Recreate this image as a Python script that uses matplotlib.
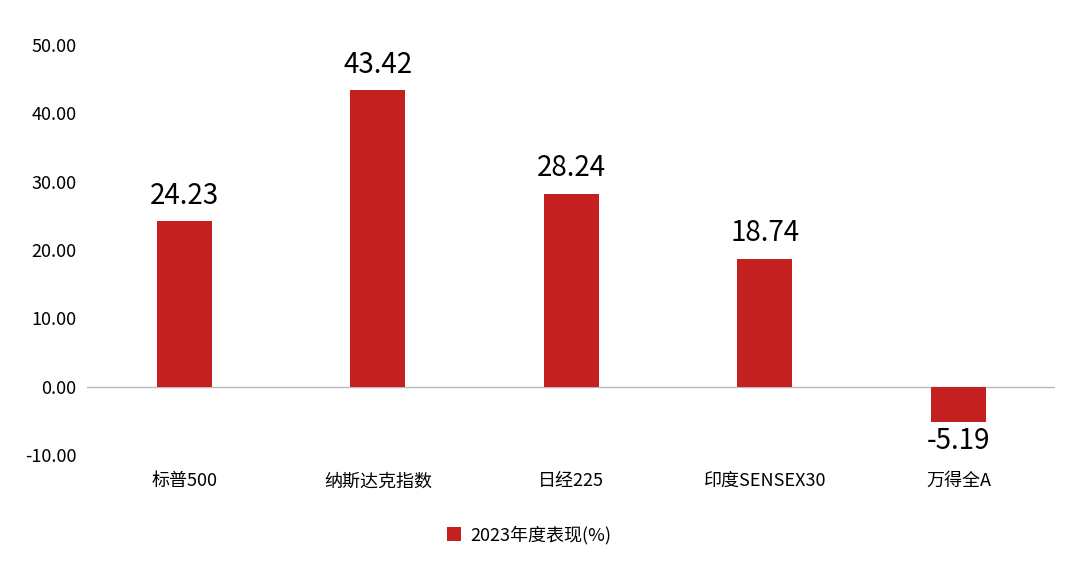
import matplotlib
matplotlib.use("Agg")
import matplotlib.pyplot as plt

plt.rcParams['font.family'] = ['Noto Sans CJK SC', 'DejaVu Sans']

categories = ["标普500", "纳斯达克指数", "日经225", "印度SENSEX30", "万得全A"]
values = [24.23, 43.42, 28.24, 18.74, -5.19]
yticks = [-10, 0, 10, 20, 30, 40, 50]
color = "#C4201F"

fig = plt.figure(figsize=(10.8, 5.69), dpi=100)
ax = fig.add_axes([0.081, 0.2, 0.896, 0.721])
x = list(range(len(categories)))
ax.bar(x, values, width=0.285, color=color, label="2023年度表现(%)", zorder=2)
ax.set_xlim(-0.5, len(categories) - 0.5)
ax.set_ylim(-10, 50)
ax.set_yticks(yticks)
ax.set_yticklabels([f"{v:.2f}" for v in yticks], fontsize=13)
ax.tick_params(axis='y', length=0, pad=8)
ax.tick_params(axis='x', length=0)
ax.set_xticks([])
for s in ax.spines.values():
    s.set_visible(False)
ax.axhline(0, color="#BBBBBB", lw=1, zorder=1)
for xi, v, c in zip(x, values, categories):
    if v >= 0:
        ax.text(xi, v + 1.5, f"{v:.2f}", ha='center', va='bottom', fontsize=20)
    else:
        ax.text(xi, v - 0.6, f"{v:.2f}", ha='center', va='top', fontsize=20)
    ax.text(xi, -13.8, c, ha='center', va='center', fontsize=13, clip_on=False)
fig.legend(loc='center', bbox_to_anchor=(0.49, 0.06), frameon=False, fontsize=13,
           handlelength=0.8, handleheight=0.8, handletextpad=0.5)
fig.savefig("out.png", dpi=100)
